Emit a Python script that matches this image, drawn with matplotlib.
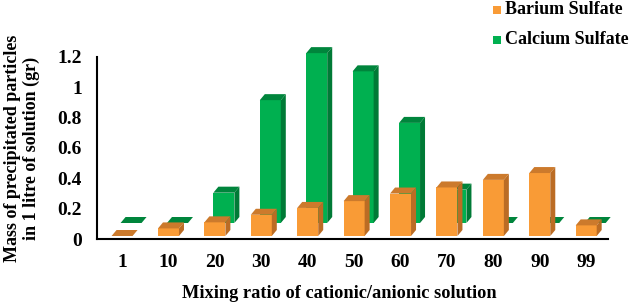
import matplotlib
matplotlib.use("Agg")
import matplotlib.pyplot as plt
from matplotlib.patches import Polygon, Rectangle
import numpy as np

ratios = ["1", "10", "20", "30", "40", "50", "60", "70", "80", "90", "99"]
barium = [0.0, 0.05, 0.09, 0.14, 0.185, 0.23, 0.28, 0.32, 0.37, 0.415, 0.07]
calcium = [0.0, 0.0, 0.2, 0.81, 1.12, 1.0, 0.66, 0.22, 0.0, 0.0, 0.0]
series_names = ["Barium Sulfate", "Calcium Sulfate"]

plt.rcParams['font.family'] = ['Liberation Serif', 'DejaVu Serif']
plt.rcParams['font.weight'] = 'bold'

W, H = 630, 304
fig = plt.figure(figsize=(W / 100, H / 100), dpi=100)
ax = fig.add_axes([97 / W, 65 / H, 511 / W, 182 / H])
xmin, xmax = -0.54, 10.47
ax.set_xlim(xmin, xmax)
ax.set_ylim(0, 1.2)

# size of one pixel in data units, used for the fake 3d depth
ux = (xmax - xmin) / 511
uy = 1.2 / 182


def bar3d(x, h, shift_x, shift_y, front, top, side):
    half = 10.5 * ux
    x0 = x - half + shift_x * ux
    x1 = x + half + shift_x * ux
    y0 = shift_y * uy
    y1 = y0 + h
    ddx, ddy = 5 * ux, 6 * uy
    faces = [
        ([(x0, y0), (x1, y0), (x1, y1), (x0, y1)], front),
        ([(x0, y1), (x1, y1), (x1 + ddx, y1 + ddy), (x0 + ddx, y1 + ddy)], top),
        ([(x1, y0), (x1 + ddx, y0 + ddy), (x1 + ddx, y1 + ddy), (x1, y1)], side),
    ]
    for pts, c in faces:
        ax.add_patch(Polygon(pts, fc=c, ec='none', clip_on=False))


green = ('#00B050', '#00853C', '#007A36')
orange = ('#F99B36', '#CC7A2C', '#BB6C24')

xs = np.arange(len(ratios))
for x, v in zip(xs, calcium):
    bar3d(x, v, 9, 16, *green)
for x, v in zip(xs, barium):
    bar3d(x, v, 0, 3, *orange)

for s in ['top', 'right']:
    ax.spines[s].set_visible(False)
for s in ['left', 'bottom']:
    ax.spines[s].set_linewidth(1.5)
    ax.spines[s].set_color('black')

ax.set_yticks(np.arange(0, 1.21, 0.2))
ax.set_yticklabels(['0', '0.2', '0.4', '0.6', '0.8', '1', '1.2'])
ax.set_xticks(xs)
ax.set_xticklabels(ratios)
ax.tick_params(axis='y', length=0, pad=11, labelsize=14)
ax.tick_params(axis='x', length=0, pad=11, labelsize=14)

fig.text(22 / W, 1 - 148 / H, "Mass of precipitated particles\nin 1 litre of solution (gr)",
         rotation=90, ha='center', va='center', multialignment='center',
         fontsize=13, linespacing=1.1)
fig.text(339 / W, 11 / H, "Mixing ratio of cationic/anionic solution",
         ha='center', va='center', fontsize=13.2)

# legend drawn by hand, top right
for i, (name, col) in enumerate(zip(series_names, [orange[0], green[0]])):
    yc = 10 + 30 * i
    fig.patches.append(Rectangle((493 / W, 1 - (yc + 4) / H), 8 / W, 8 / H,
                                 transform=fig.transFigure, fc=col, ec='none'))
    fig.text(505 / W, 1 - yc / H, name, ha='left', va='center', fontsize=13)

fig.savefig('out.png', dpi=100)
